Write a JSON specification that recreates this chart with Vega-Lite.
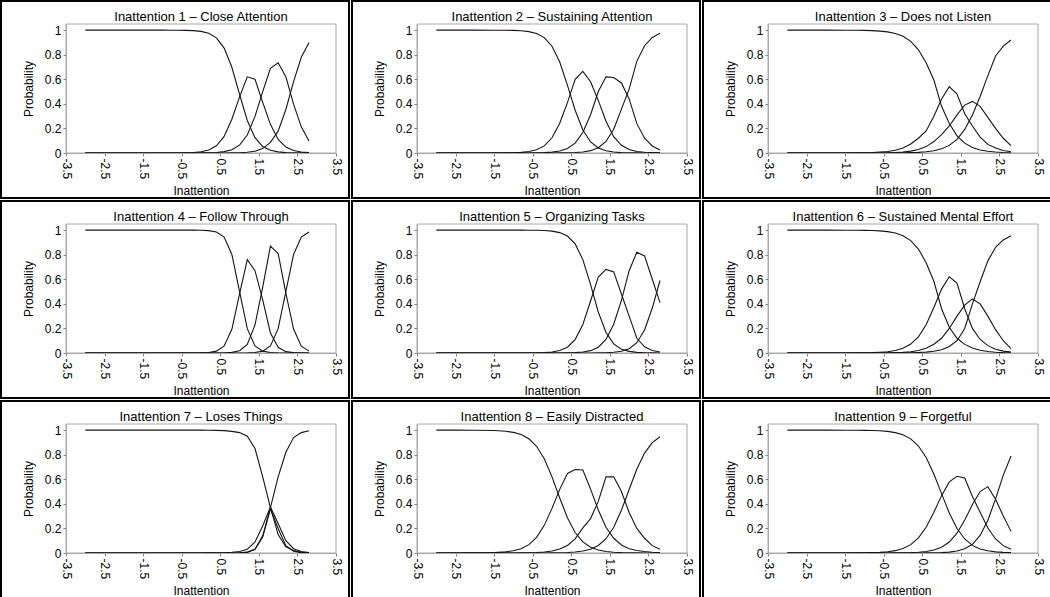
{
 "$schema": "https://vega.github.io/schema/vega-lite/v6.json",
 "padding": 0,
 "background": "white",
 "datasets": {
  "curves": [
   {"i":1,"x":-3,"a":1,"b":0,"c":0,"d":0},
   {"i":1,"x":-2.5,"a":1,"b":0,"c":0,"d":0},
   {"i":1,"x":-2,"a":1,"b":0,"c":0,"d":0},
   {"i":1,"x":-1.5,"a":1,"b":0,"c":0,"d":0},
   {"i":1,"x":-1.2,"a":1,"b":0,"c":0,"d":0},
   {"i":1,"x":-1,"a":1,"b":0,"c":0,"d":0},
   {"i":1,"x":-0.8,"a":0.9997,"b":0.0003,"c":0,"d":0},
   {"i":1,"x":-0.6,"a":0.9994,"b":0.0006,"c":0,"d":0},
   {"i":1,"x":-0.4,"a":0.998,"b":0.002,"c":0,"d":0},
   {"i":1,"x":-0.2,"a":0.996,"b":0.004,"c":0,"d":0},
   {"i":1,"x":0,"a":0.99,"b":0.0096,"c":0.0007,"d":0},
   {"i":1,"x":0.2,"a":0.974,"b":0.024,"c":0.002,"d":0},
   {"i":1,"x":0.4,"a":0.937,"b":0.059,"c":0.004,"d":0},
   {"i":1,"x":0.6,"a":0.854,"b":0.135,"c":0.011,"d":0},
   {"i":1,"x":0.8,"a":0.698,"b":0.275,"c":0.026,"d":0.001},
   {"i":1,"x":1,"a":0.477,"b":0.457,"c":0.064,"d":0.002},
   {"i":1,"x":1.2,"a":0.265,"b":0.62,"c":0.146,"d":0.006},
   {"i":1,"x":1.4,"a":0.125,"b":0.6,"c":0.298,"d":0.014},
   {"i":1,"x":1.6,"a":0.053,"b":0.412,"c":0.499,"d":0.036},
   {"i":1,"x":1.8,"a":0.022,"b":0.233,"c":0.69,"d":0.086},
   {"i":1,"x":2,"a":0.009,"b":0.11,"c":0.735,"d":0.178},
   {"i":1,"x":2.2,"a":0.003,"b":0.048,"c":0.62,"d":0.354},
   {"i":1,"x":2.4,"a":0.001,"b":0.02,"c":0.398,"d":0.581},
   {"i":1,"x":2.6,"a":0.001,"b":0.008,"c":0.213,"d":0.779},
   {"i":1,"x":2.8,"a":0,"b":0.003,"c":0.098,"d":0.899},

   {"i":2,"x":-3,"a":1,"b":0,"c":0,"d":0},
   {"i":2,"x":-2.5,"a":1,"b":0,"c":0,"d":0},
   {"i":2,"x":-2,"a":1,"b":0,"c":0,"d":0},
   {"i":2,"x":-1.5,"a":0.9997,"b":0.0003,"c":0,"d":0},
   {"i":2,"x":-1.2,"a":0.999,"b":0.001,"c":0,"d":0},
   {"i":2,"x":-1,"a":0.998,"b":0.002,"c":0,"d":0},
   {"i":2,"x":-0.8,"a":0.995,"b":0.005,"c":0,"d":0},
   {"i":2,"x":-0.6,"a":0.988,"b":0.012,"c":0,"d":0},
   {"i":2,"x":-0.4,"a":0.973,"b":0.026,"c":0.001,"d":0},
   {"i":2,"x":-0.2,"a":0.939,"b":0.058,"c":0.003,"d":0},
   {"i":2,"x":0,"a":0.869,"b":0.124,"c":0.007,"d":0},
   {"i":2,"x":0.2,"a":0.741,"b":0.242,"c":0.016,"d":0.001},
   {"i":2,"x":0.4,"a":0.552,"b":0.41,"c":0.037,"d":0.002},
   {"i":2,"x":0.6,"a":0.348,"b":0.6,"c":0.08,"d":0.004},
   {"i":2,"x":0.8,"a":0.187,"b":0.665,"c":0.167,"d":0.008},
   {"i":2,"x":1,"a":0.09,"b":0.58,"c":0.311,"d":0.019},
   {"i":2,"x":1.2,"a":0.041,"b":0.428,"c":0.5,"d":0.043},
   {"i":2,"x":1.4,"a":0.018,"b":0.258,"c":0.62,"d":0.094},
   {"i":2,"x":1.6,"a":0.008,"b":0.133,"c":0.615,"d":0.193},
   {"i":2,"x":1.8,"a":0.003,"b":0.063,"c":0.57,"d":0.357},
   {"i":2,"x":2,"a":0.002,"b":0.029,"c":0.44,"d":0.52},
   {"i":2,"x":2.2,"a":0.001,"b":0.012,"c":0.239,"d":0.748},
   {"i":2,"x":2.4,"a":0,"b":0.006,"c":0.121,"d":0.873},
   {"i":2,"x":2.6,"a":0,"b":0.003,"c":0.057,"d":0.941},
   {"i":2,"x":2.8,"a":0,"b":0.001,"c":0.025,"d":0.974},

   {"i":3,"x":-3,"a":1,"b":0,"c":0,"d":0},
   {"i":3,"x":-2.5,"a":1,"b":0,"c":0,"d":0},
   {"i":3,"x":-2,"a":1,"b":0,"c":0,"d":0},
   {"i":3,"x":-1.5,"a":0.9996,"b":0.0004,"c":0,"d":0},
   {"i":3,"x":-1.2,"a":0.999,"b":0.001,"c":0,"d":0},
   {"i":3,"x":-1,"a":0.998,"b":0.002,"c":0,"d":0},
   {"i":3,"x":-0.8,"a":0.996,"b":0.004,"c":0,"d":0},
   {"i":3,"x":-0.6,"a":0.992,"b":0.008,"c":0,"d":0},
   {"i":3,"x":-0.4,"a":0.986,"b":0.012,"c":0.002,"d":0},
   {"i":3,"x":-0.2,"a":0.973,"b":0.022,"c":0.004,"d":0.001},
   {"i":3,"x":0,"a":0.95,"b":0.04,"c":0.008,"d":0.001},
   {"i":3,"x":0.2,"a":0.909,"b":0.073,"c":0.015,"d":0.003},
   {"i":3,"x":0.4,"a":0.84,"b":0.12,"c":0.029,"d":0.005},
   {"i":3,"x":0.6,"a":0.735,"b":0.18,"c":0.052,"d":0.01},
   {"i":3,"x":0.8,"a":0.594,"b":0.3,"c":0.093,"d":0.018},
   {"i":3,"x":1,"a":0.38,"b":0.44,"c":0.15,"d":0.034},
   {"i":3,"x":1.2,"a":0.24,"b":0.54,"c":0.22,"d":0.062},
   {"i":3,"x":1.4,"a":0.14,"b":0.48,"c":0.31,"d":0.111},
   {"i":3,"x":1.6,"a":0.08,"b":0.32,"c":0.39,"d":0.192},
   {"i":3,"x":1.8,"a":0.045,"b":0.22,"c":0.42,"d":0.31},
   {"i":3,"x":2,"a":0.025,"b":0.13,"c":0.38,"d":0.46},
   {"i":3,"x":2.2,"a":0.014,"b":0.07,"c":0.29,"d":0.63},
   {"i":3,"x":2.4,"a":0.008,"b":0.04,"c":0.2,"d":0.79},
   {"i":3,"x":2.6,"a":0.004,"b":0.02,"c":0.12,"d":0.87},
   {"i":3,"x":2.8,"a":0.002,"b":0.01,"c":0.06,"d":0.92},

   {"i":4,"x":-3,"a":1,"b":0,"c":0,"d":0},
   {"i":4,"x":-2.5,"a":1,"b":0,"c":0,"d":0},
   {"i":4,"x":-2,"a":1,"b":0,"c":0,"d":0},
   {"i":4,"x":-1.5,"a":1,"b":0,"c":0,"d":0},
   {"i":4,"x":-1.2,"a":1,"b":0,"c":0,"d":0},
   {"i":4,"x":-1,"a":1,"b":0,"c":0,"d":0},
   {"i":4,"x":-0.8,"a":1,"b":0,"c":0,"d":0},
   {"i":4,"x":-0.6,"a":1,"b":0,"c":0,"d":0},
   {"i":4,"x":-0.4,"a":1,"b":0,"c":0,"d":0},
   {"i":4,"x":-0.2,"a":1,"b":0,"c":0,"d":0},
   {"i":4,"x":0,"a":0.999,"b":0.001,"c":0,"d":0},
   {"i":4,"x":0.2,"a":0.996,"b":0.004,"c":0,"d":0},
   {"i":4,"x":0.4,"a":0.985,"b":0.015,"c":0,"d":0},
   {"i":4,"x":0.6,"a":0.943,"b":0.057,"c":0,"d":0},
   {"i":4,"x":0.8,"a":0.802,"b":0.193,"c":0.005,"d":0},
   {"i":4,"x":1,"a":0.5,"b":0.482,"c":0.018,"d":0},
   {"i":4,"x":1.2,"a":0.198,"b":0.76,"c":0.069,"d":0.001},
   {"i":4,"x":1.4,"a":0.057,"b":0.67,"c":0.229,"d":0.004},
   {"i":4,"x":1.6,"a":0.015,"b":0.433,"c":0.537,"d":0.015},
   {"i":4,"x":1.8,"a":0.004,"b":0.163,"c":0.87,"d":0.057},
   {"i":4,"x":2,"a":0.001,"b":0.046,"c":0.81,"d":0.198},
   {"i":4,"x":2.2,"a":0,"b":0.011,"c":0.488,"d":0.5},
   {"i":4,"x":2.4,"a":0,"b":0.003,"c":0.195,"d":0.802},
   {"i":4,"x":2.6,"a":0,"b":0.001,"c":0.056,"d":0.943},
   {"i":4,"x":2.8,"a":0,"b":0,"c":0.015,"d":0.985},

   {"i":5,"x":-3,"a":1,"b":0,"c":0,"d":0},
   {"i":5,"x":-2.5,"a":1,"b":0,"c":0,"d":0},
   {"i":5,"x":-2,"a":1,"b":0,"c":0,"d":0},
   {"i":5,"x":-1.5,"a":1,"b":0,"c":0,"d":0},
   {"i":5,"x":-1.2,"a":1,"b":0,"c":0,"d":0},
   {"i":5,"x":-1,"a":1,"b":0,"c":0,"d":0},
   {"i":5,"x":-0.8,"a":1,"b":0,"c":0,"d":0},
   {"i":5,"x":-0.6,"a":0.9995,"b":0.0005,"c":0,"d":0},
   {"i":5,"x":-0.4,"a":0.999,"b":0.001,"c":0,"d":0},
   {"i":5,"x":-0.2,"a":0.997,"b":0.003,"c":0,"d":0},
   {"i":5,"x":0,"a":0.992,"b":0.008,"c":0,"d":0},
   {"i":5,"x":0.2,"a":0.98,"b":0.02,"c":0,"d":0},
   {"i":5,"x":0.4,"a":0.952,"b":0.047,"c":0.001,"d":0},
   {"i":5,"x":0.6,"a":0.888,"b":0.109,"c":0.003,"d":0},
   {"i":5,"x":0.8,"a":0.76,"b":0.232,"c":0.008,"d":0},
   {"i":5,"x":1,"a":0.557,"b":0.423,"c":0.019,"d":0},
   {"i":5,"x":1.2,"a":0.334,"b":0.618,"c":0.047,"d":0.001},
   {"i":5,"x":1.4,"a":0.167,"b":0.68,"c":0.11,"d":0.002},
   {"i":5,"x":1.6,"a":0.074,"b":0.66,"c":0.234,"d":0.006},
   {"i":5,"x":1.8,"a":0.031,"b":0.48,"c":0.429,"d":0.014},
   {"i":5,"x":2,"a":0.013,"b":0.3,"c":0.67,"d":0.035},
   {"i":5,"x":2.2,"a":0.005,"b":0.12,"c":0.82,"d":0.084},
   {"i":5,"x":2.4,"a":0.002,"b":0.05,"c":0.79,"d":0.187},
   {"i":5,"x":2.6,"a":0.001,"b":0.02,"c":0.6,"d":0.366},
   {"i":5,"x":2.8,"a":0,"b":0.008,"c":0.41,"d":0.59},

   {"i":6,"x":-3,"a":1,"b":0,"c":0,"d":0},
   {"i":6,"x":-2.5,"a":1,"b":0,"c":0,"d":0},
   {"i":6,"x":-2,"a":1,"b":0,"c":0,"d":0},
   {"i":6,"x":-1.5,"a":0.9997,"b":0.0003,"c":0,"d":0},
   {"i":6,"x":-1.2,"a":0.9992,"b":0.0008,"c":0,"d":0},
   {"i":6,"x":-1,"a":0.998,"b":0.002,"c":0,"d":0},
   {"i":6,"x":-0.8,"a":0.997,"b":0.003,"c":0,"d":0},
   {"i":6,"x":-0.6,"a":0.994,"b":0.006,"c":0,"d":0},
   {"i":6,"x":-0.4,"a":0.988,"b":0.01,"c":0.002,"d":0},
   {"i":6,"x":-0.2,"a":0.977,"b":0.02,"c":0.003,"d":0},
   {"i":6,"x":0,"a":0.955,"b":0.039,"c":0.005,"d":0.001},
   {"i":6,"x":0.2,"a":0.915,"b":0.073,"c":0.01,"d":0.002},
   {"i":6,"x":0.4,"a":0.846,"b":0.131,"c":0.02,"d":0.004},
   {"i":6,"x":0.6,"a":0.735,"b":0.23,"c":0.038,"d":0.007},
   {"i":6,"x":0.8,"a":0.584,"b":0.37,"c":0.071,"d":0.014},
   {"i":6,"x":1,"a":0.36,"b":0.52,"c":0.12,"d":0.027},
   {"i":6,"x":1.2,"a":0.21,"b":0.62,"c":0.2,"d":0.053},
   {"i":6,"x":1.4,"a":0.12,"b":0.57,"c":0.3,"d":0.1},
   {"i":6,"x":1.6,"a":0.07,"b":0.36,"c":0.39,"d":0.2},
   {"i":6,"x":1.8,"a":0.04,"b":0.2,"c":0.44,"d":0.4},
   {"i":6,"x":2,"a":0.023,"b":0.11,"c":0.4,"d":0.58},
   {"i":6,"x":2.2,"a":0.012,"b":0.06,"c":0.3,"d":0.75},
   {"i":6,"x":2.4,"a":0.006,"b":0.03,"c":0.19,"d":0.86},
   {"i":6,"x":2.6,"a":0.003,"b":0.015,"c":0.1,"d":0.92},
   {"i":6,"x":2.8,"a":0.002,"b":0.008,"c":0.035,"d":0.955},

   {"i":7,"x":-3,"a":1,"b":0,"c":0,"d":0},
   {"i":7,"x":-2.5,"a":1,"b":0,"c":0,"d":0},
   {"i":7,"x":-2,"a":1,"b":0,"c":0,"d":0},
   {"i":7,"x":-1.5,"a":1,"b":0,"c":0,"d":0},
   {"i":7,"x":-1.2,"a":1,"b":0,"c":0,"d":0},
   {"i":7,"x":-1,"a":1,"b":0,"c":0,"d":0},
   {"i":7,"x":-0.8,"a":1,"b":0,"c":0,"d":0},
   {"i":7,"x":-0.6,"a":1,"b":0,"c":0,"d":0},
   {"i":7,"x":-0.4,"a":1,"b":0,"c":0,"d":0},
   {"i":7,"x":-0.2,"a":1,"b":0,"c":0,"d":0},
   {"i":7,"x":0,"a":1,"b":0,"c":0,"d":0},
   {"i":7,"x":0.2,"a":0.999,"b":0.001,"c":0,"d":0},
   {"i":7,"x":0.4,"a":0.998,"b":0.001,"c":0,"d":0},
   {"i":7,"x":0.6,"a":0.996,"b":0.002,"c":0,"d":0},
   {"i":7,"x":0.8,"a":0.99,"b":0.006,"c":0,"d":0},
   {"i":7,"x":1,"a":0.98,"b":0.012,"c":0.002,"d":0.001},
   {"i":7,"x":1.2,"a":0.95,"b":0.03,"c":0.008,"d":0.005},
   {"i":7,"x":1.4,"a":0.85,"b":0.09,"c":0.03,"d":0.03},
   {"i":7,"x":1.6,"a":0.62,"b":0.22,"c":0.13,"d":0.14},
   {"i":7,"x":1.8,"a":0.37,"b":0.375,"c":0.36,"d":0.37},
   {"i":7,"x":2,"a":0.15,"b":0.24,"c":0.2,"d":0.62},
   {"i":7,"x":2.2,"a":0.05,"b":0.1,"c":0.06,"d":0.82},
   {"i":7,"x":2.4,"a":0.02,"b":0.035,"c":0.015,"d":0.94},
   {"i":7,"x":2.6,"a":0.005,"b":0.012,"c":0.003,"d":0.98},
   {"i":7,"x":2.8,"a":0.001,"b":0.004,"c":0,"d":0.995},

   {"i":8,"x":-3,"a":1,"b":0,"c":0,"d":0},
   {"i":8,"x":-2.5,"a":1,"b":0,"c":0,"d":0},
   {"i":8,"x":-2,"a":0.999,"b":0.001,"c":0,"d":0},
   {"i":8,"x":-1.5,"a":0.997,"b":0.003,"c":0,"d":0},
   {"i":8,"x":-1.2,"a":0.991,"b":0.009,"c":0,"d":0},
   {"i":8,"x":-1,"a":0.982,"b":0.018,"c":0,"d":0},
   {"i":8,"x":-0.8,"a":0.964,"b":0.035,"c":0.001,"d":0},
   {"i":8,"x":-0.6,"a":0.93,"b":0.068,"c":0.002,"d":0},
   {"i":8,"x":-0.4,"a":0.869,"b":0.127,"c":0.004,"d":0},
   {"i":8,"x":-0.2,"a":0.767,"b":0.225,"c":0.008,"d":0},
   {"i":8,"x":0,"a":0.62,"b":0.363,"c":0.016,"d":0.001},
   {"i":8,"x":0.2,"a":0.448,"b":0.518,"c":0.032,"d":0.002},
   {"i":8,"x":0.4,"a":0.287,"b":0.648,"c":0.061,"d":0.004},
   {"i":8,"x":0.6,"a":0.167,"b":0.68,"c":0.115,"d":0.008},
   {"i":8,"x":0.8,"a":0.09,"b":0.675,"c":0.205,"d":0.016},
   {"i":8,"x":1,"a":0.047,"b":0.52,"c":0.28,"d":0.031},
   {"i":8,"x":1.2,"a":0.024,"b":0.35,"c":0.42,"d":0.061},
   {"i":8,"x":1.4,"a":0.012,"b":0.21,"c":0.62,"d":0.116},
   {"i":8,"x":1.6,"a":0.006,"b":0.12,"c":0.62,"d":0.209},
   {"i":8,"x":1.8,"a":0.003,"b":0.065,"c":0.5,"d":0.348},
   {"i":8,"x":2,"a":0.002,"b":0.035,"c":0.33,"d":0.517},
   {"i":8,"x":2.2,"a":0.001,"b":0.02,"c":0.2,"d":0.683},
   {"i":8,"x":2.4,"a":0,"b":0.012,"c":0.12,"d":0.813},
   {"i":8,"x":2.6,"a":0,"b":0.006,"c":0.06,"d":0.898},
   {"i":8,"x":2.8,"a":0,"b":0.003,"c":0.03,"d":0.946},

   {"i":9,"x":-3,"a":1,"b":0,"c":0,"d":0},
   {"i":9,"x":-2.5,"a":1,"b":0,"c":0,"d":0},
   {"i":9,"x":-2,"a":1,"b":0,"c":0,"d":0},
   {"i":9,"x":-1.5,"a":0.9997,"b":0.0003,"c":0,"d":0},
   {"i":9,"x":-1.2,"a":0.999,"b":0.001,"c":0,"d":0},
   {"i":9,"x":-1,"a":0.998,"b":0.002,"c":0,"d":0},
   {"i":9,"x":-0.8,"a":0.997,"b":0.003,"c":0,"d":0},
   {"i":9,"x":-0.6,"a":0.995,"b":0.005,"c":0,"d":0},
   {"i":9,"x":-0.4,"a":0.99,"b":0.01,"c":0,"d":0},
   {"i":9,"x":-0.2,"a":0.98,"b":0.019,"c":0.001,"d":0},
   {"i":9,"x":0,"a":0.962,"b":0.036,"c":0.002,"d":0},
   {"i":9,"x":0.2,"a":0.929,"b":0.068,"c":0.003,"d":0},
   {"i":9,"x":0.4,"a":0.871,"b":0.123,"c":0.006,"d":0},
   {"i":9,"x":0.6,"a":0.777,"b":0.21,"c":0.012,"d":0.001},
   {"i":9,"x":0.8,"a":0.643,"b":0.331,"c":0.024,"d":0.002},
   {"i":9,"x":1,"a":0.483,"b":0.467,"c":0.047,"d":0.003},
   {"i":9,"x":1.2,"a":0.325,"b":0.579,"c":0.089,"d":0.007},
   {"i":9,"x":1.4,"a":0.199,"b":0.624,"c":0.161,"d":0.016},
   {"i":9,"x":1.6,"a":0.114,"b":0.61,"c":0.268,"d":0.034},
   {"i":9,"x":1.8,"a":0.062,"b":0.46,"c":0.394,"d":0.071},
   {"i":9,"x":2,"a":0.033,"b":0.331,"c":0.5,"d":0.143},
   {"i":9,"x":2.2,"a":0.018,"b":0.203,"c":0.54,"d":0.267},
   {"i":9,"x":2.4,"a":0.009,"b":0.114,"c":0.437,"d":0.44},
   {"i":9,"x":2.6,"a":0.005,"b":0.06,"c":0.301,"d":0.634},
   {"i":9,"x":2.8,"a":0.003,"b":0.031,"c":0.176,"d":0.79}
  ]
 },
 "data": {"name": "curves"},
 "columns": 3,
 "spacing": 0,
 "concat": [
  {"transform": [{"filter": "datum.i == 1"}], "width": 270, "height": 129, "layer": [
   {"transform": [{"filter": "datum.x == -3"}], "mark": {"type": "rect", "fill": "black", "strokeWidth": 0},
    "encoding": {"x": {"datum": -5.2111, "type": "quantitative"}, "x2": {"datum": 3.863}, "y": {"datum": -0.3745, "type": "quantitative"}, "y2": {"datum": 1.2453}}},
   {"transform": [{"filter": "datum.x == -3"}], "mark": {"type": "rect", "fill": "white", "strokeWidth": 0},
    "encoding": {"x": {"datum": -5.1593, "type": "quantitative"}, "x2": {"datum": 3.8111}, "y": {"datum": -0.3582, "type": "quantitative"}, "y2": {"datum": 1.229}}},
   {"transform": [{"filter": "datum.x == -3"}], "mark": {"type": "rect", "fill": "transparent", "stroke": "#a8a8a8", "strokeWidth": 1},
    "encoding": {"x": {"datum": -3.5, "type": "quantitative"}, "x2": {"datum": 3.5}, "y": {"datum": 0, "type": "quantitative"}, "y2": {"datum": 1.05}}},
   {"transform": [{"fold": ["a","b","c","d"], "as": ["cat","p"]}], "mark": {"type": "line", "stroke": "#151515", "strokeWidth": 1.1},
    "encoding": {"x": {"field": "x", "type": "quantitative", "scale": {"domain": [-3.5, 3.5], "nice": false, "zero": false}, "axis": {"title": "Inattention", "zindex": 1, "values": [-3.5,-2.5,-1.5,-0.5,0.5,1.5,2.5,3.5], "tickCount": 20, "labelAngle": 90, "labelOverlap": false, "labelExpr": "datum.value + ''"}},
                 "y": {"field": "p", "type": "quantitative", "scale": {"domain": [0, 1.05], "nice": false, "zero": false}, "axis": {"title": "Probability", "zindex": 1, "values": [0,0.2,0.4,0.6,0.8,1], "tickCount": 20, "labelOverlap": false, "labelExpr": "datum.value + ''"}},
                 "detail": {"field": "cat"}}},
   {"transform": [{"filter": "datum.x == -3"}], "mark": {"type": "text", "fontSize": 13, "baseline": "middle", "align": "center", "color": "black"},
    "encoding": {"x": {"datum": 0, "type": "quantitative"}, "y": {"datum": 1.105, "type": "quantitative"}, "text": {"value": "Inattention 1 – Close Attention"}}}
  ]},
  {"transform": [{"filter": "datum.i == 2"}], "width": 270, "height": 129, "layer": [
   {"transform": [{"filter": "datum.x == -3"}], "mark": {"type": "rect", "fill": "black", "strokeWidth": 0},
    "encoding": {"x": {"datum": -5.2111, "type": "quantitative"}, "x2": {"datum": 3.863}, "y": {"datum": -0.3745, "type": "quantitative"}, "y2": {"datum": 1.2453}}},
   {"transform": [{"filter": "datum.x == -3"}], "mark": {"type": "rect", "fill": "white", "strokeWidth": 0},
    "encoding": {"x": {"datum": -5.1593, "type": "quantitative"}, "x2": {"datum": 3.8111}, "y": {"datum": -0.3582, "type": "quantitative"}, "y2": {"datum": 1.229}}},
   {"transform": [{"filter": "datum.x == -3"}], "mark": {"type": "rect", "fill": "transparent", "stroke": "#a8a8a8", "strokeWidth": 1},
    "encoding": {"x": {"datum": -3.5, "type": "quantitative"}, "x2": {"datum": 3.5}, "y": {"datum": 0, "type": "quantitative"}, "y2": {"datum": 1.05}}},
   {"transform": [{"fold": ["a","b","c","d"], "as": ["cat","p"]}], "mark": {"type": "line", "stroke": "#151515", "strokeWidth": 1.1},
    "encoding": {"x": {"field": "x", "type": "quantitative", "scale": {"domain": [-3.5, 3.5], "nice": false, "zero": false}, "axis": {"title": "Inattention", "zindex": 1, "values": [-3.5,-2.5,-1.5,-0.5,0.5,1.5,2.5,3.5], "tickCount": 20, "labelAngle": 90, "labelOverlap": false, "labelExpr": "datum.value + ''"}},
                 "y": {"field": "p", "type": "quantitative", "scale": {"domain": [0, 1.05], "nice": false, "zero": false}, "axis": {"title": "Probability", "zindex": 1, "values": [0,0.2,0.4,0.6,0.8,1], "tickCount": 20, "labelOverlap": false, "labelExpr": "datum.value + ''"}},
                 "detail": {"field": "cat"}}},
   {"transform": [{"filter": "datum.x == -3"}], "mark": {"type": "text", "fontSize": 13, "baseline": "middle", "align": "center", "color": "black"},
    "encoding": {"x": {"datum": 0, "type": "quantitative"}, "y": {"datum": 1.105, "type": "quantitative"}, "text": {"value": "Inattention 2 – Sustaining Attention"}}}
  ]},
  {"transform": [{"filter": "datum.i == 3"}], "width": 270, "height": 129, "layer": [
   {"transform": [{"filter": "datum.x == -3"}], "mark": {"type": "rect", "fill": "black", "strokeWidth": 0},
    "encoding": {"x": {"datum": -5.2111, "type": "quantitative"}, "x2": {"datum": 3.863}, "y": {"datum": -0.3745, "type": "quantitative"}, "y2": {"datum": 1.2453}}},
   {"transform": [{"filter": "datum.x == -3"}], "mark": {"type": "rect", "fill": "white", "strokeWidth": 0},
    "encoding": {"x": {"datum": -5.1593, "type": "quantitative"}, "x2": {"datum": 3.8111}, "y": {"datum": -0.3582, "type": "quantitative"}, "y2": {"datum": 1.229}}},
   {"transform": [{"filter": "datum.x == -3"}], "mark": {"type": "rect", "fill": "transparent", "stroke": "#a8a8a8", "strokeWidth": 1},
    "encoding": {"x": {"datum": -3.5, "type": "quantitative"}, "x2": {"datum": 3.5}, "y": {"datum": 0, "type": "quantitative"}, "y2": {"datum": 1.05}}},
   {"transform": [{"fold": ["a","b","c","d"], "as": ["cat","p"]}], "mark": {"type": "line", "stroke": "#151515", "strokeWidth": 1.1},
    "encoding": {"x": {"field": "x", "type": "quantitative", "scale": {"domain": [-3.5, 3.5], "nice": false, "zero": false}, "axis": {"title": "Inattention", "zindex": 1, "values": [-3.5,-2.5,-1.5,-0.5,0.5,1.5,2.5,3.5], "tickCount": 20, "labelAngle": 90, "labelOverlap": false, "labelExpr": "datum.value + ''"}},
                 "y": {"field": "p", "type": "quantitative", "scale": {"domain": [0, 1.05], "nice": false, "zero": false}, "axis": {"title": "Probability", "zindex": 1, "values": [0,0.2,0.4,0.6,0.8,1], "tickCount": 20, "labelOverlap": false, "labelExpr": "datum.value + ''"}},
                 "detail": {"field": "cat"}}},
   {"transform": [{"filter": "datum.x == -3"}], "mark": {"type": "text", "fontSize": 13, "baseline": "middle", "align": "center", "color": "black"},
    "encoding": {"x": {"datum": 0, "type": "quantitative"}, "y": {"datum": 1.105, "type": "quantitative"}, "text": {"value": "Inattention 3 – Does not Listen"}}}
  ]},
  {"transform": [{"filter": "datum.i == 4"}], "width": 270, "height": 129, "layer": [
   {"transform": [{"filter": "datum.x == -3"}], "mark": {"type": "rect", "fill": "black", "strokeWidth": 0},
    "encoding": {"x": {"datum": -5.2111, "type": "quantitative"}, "x2": {"datum": 3.863}, "y": {"datum": -0.3745, "type": "quantitative"}, "y2": {"datum": 1.2453}}},
   {"transform": [{"filter": "datum.x == -3"}], "mark": {"type": "rect", "fill": "white", "strokeWidth": 0},
    "encoding": {"x": {"datum": -5.1593, "type": "quantitative"}, "x2": {"datum": 3.8111}, "y": {"datum": -0.3582, "type": "quantitative"}, "y2": {"datum": 1.229}}},
   {"transform": [{"filter": "datum.x == -3"}], "mark": {"type": "rect", "fill": "transparent", "stroke": "#a8a8a8", "strokeWidth": 1},
    "encoding": {"x": {"datum": -3.5, "type": "quantitative"}, "x2": {"datum": 3.5}, "y": {"datum": 0, "type": "quantitative"}, "y2": {"datum": 1.05}}},
   {"transform": [{"fold": ["a","b","c","d"], "as": ["cat","p"]}], "mark": {"type": "line", "stroke": "#151515", "strokeWidth": 1.1},
    "encoding": {"x": {"field": "x", "type": "quantitative", "scale": {"domain": [-3.5, 3.5], "nice": false, "zero": false}, "axis": {"title": "Inattention", "zindex": 1, "values": [-3.5,-2.5,-1.5,-0.5,0.5,1.5,2.5,3.5], "tickCount": 20, "labelAngle": 90, "labelOverlap": false, "labelExpr": "datum.value + ''"}},
                 "y": {"field": "p", "type": "quantitative", "scale": {"domain": [0, 1.05], "nice": false, "zero": false}, "axis": {"title": "Probability", "zindex": 1, "values": [0,0.2,0.4,0.6,0.8,1], "tickCount": 20, "labelOverlap": false, "labelExpr": "datum.value + ''"}},
                 "detail": {"field": "cat"}}},
   {"transform": [{"filter": "datum.x == -3"}], "mark": {"type": "text", "fontSize": 13, "baseline": "middle", "align": "center", "color": "black"},
    "encoding": {"x": {"datum": 0, "type": "quantitative"}, "y": {"datum": 1.105, "type": "quantitative"}, "text": {"value": "Inattention 4 – Follow Through"}}}
  ]},
  {"transform": [{"filter": "datum.i == 5"}], "width": 270, "height": 129, "layer": [
   {"transform": [{"filter": "datum.x == -3"}], "mark": {"type": "rect", "fill": "black", "strokeWidth": 0},
    "encoding": {"x": {"datum": -5.2111, "type": "quantitative"}, "x2": {"datum": 3.863}, "y": {"datum": -0.3745, "type": "quantitative"}, "y2": {"datum": 1.2453}}},
   {"transform": [{"filter": "datum.x == -3"}], "mark": {"type": "rect", "fill": "white", "strokeWidth": 0},
    "encoding": {"x": {"datum": -5.1593, "type": "quantitative"}, "x2": {"datum": 3.8111}, "y": {"datum": -0.3582, "type": "quantitative"}, "y2": {"datum": 1.229}}},
   {"transform": [{"filter": "datum.x == -3"}], "mark": {"type": "rect", "fill": "transparent", "stroke": "#a8a8a8", "strokeWidth": 1},
    "encoding": {"x": {"datum": -3.5, "type": "quantitative"}, "x2": {"datum": 3.5}, "y": {"datum": 0, "type": "quantitative"}, "y2": {"datum": 1.05}}},
   {"transform": [{"fold": ["a","b","c","d"], "as": ["cat","p"]}], "mark": {"type": "line", "stroke": "#151515", "strokeWidth": 1.1},
    "encoding": {"x": {"field": "x", "type": "quantitative", "scale": {"domain": [-3.5, 3.5], "nice": false, "zero": false}, "axis": {"title": "Inattention", "zindex": 1, "values": [-3.5,-2.5,-1.5,-0.5,0.5,1.5,2.5,3.5], "tickCount": 20, "labelAngle": 90, "labelOverlap": false, "labelExpr": "datum.value + ''"}},
                 "y": {"field": "p", "type": "quantitative", "scale": {"domain": [0, 1.05], "nice": false, "zero": false}, "axis": {"title": "Probability", "zindex": 1, "values": [0,0.2,0.4,0.6,0.8,1], "tickCount": 20, "labelOverlap": false, "labelExpr": "datum.value + ''"}},
                 "detail": {"field": "cat"}}},
   {"transform": [{"filter": "datum.x == -3"}], "mark": {"type": "text", "fontSize": 13, "baseline": "middle", "align": "center", "color": "black"},
    "encoding": {"x": {"datum": 0, "type": "quantitative"}, "y": {"datum": 1.105, "type": "quantitative"}, "text": {"value": "Inattention 5 – Organizing Tasks"}}}
  ]},
  {"transform": [{"filter": "datum.i == 6"}], "width": 270, "height": 129, "layer": [
   {"transform": [{"filter": "datum.x == -3"}], "mark": {"type": "rect", "fill": "black", "strokeWidth": 0},
    "encoding": {"x": {"datum": -5.2111, "type": "quantitative"}, "x2": {"datum": 3.863}, "y": {"datum": -0.3745, "type": "quantitative"}, "y2": {"datum": 1.2453}}},
   {"transform": [{"filter": "datum.x == -3"}], "mark": {"type": "rect", "fill": "white", "strokeWidth": 0},
    "encoding": {"x": {"datum": -5.1593, "type": "quantitative"}, "x2": {"datum": 3.8111}, "y": {"datum": -0.3582, "type": "quantitative"}, "y2": {"datum": 1.229}}},
   {"transform": [{"filter": "datum.x == -3"}], "mark": {"type": "rect", "fill": "transparent", "stroke": "#a8a8a8", "strokeWidth": 1},
    "encoding": {"x": {"datum": -3.5, "type": "quantitative"}, "x2": {"datum": 3.5}, "y": {"datum": 0, "type": "quantitative"}, "y2": {"datum": 1.05}}},
   {"transform": [{"fold": ["a","b","c","d"], "as": ["cat","p"]}], "mark": {"type": "line", "stroke": "#151515", "strokeWidth": 1.1},
    "encoding": {"x": {"field": "x", "type": "quantitative", "scale": {"domain": [-3.5, 3.5], "nice": false, "zero": false}, "axis": {"title": "Inattention", "zindex": 1, "values": [-3.5,-2.5,-1.5,-0.5,0.5,1.5,2.5,3.5], "tickCount": 20, "labelAngle": 90, "labelOverlap": false, "labelExpr": "datum.value + ''"}},
                 "y": {"field": "p", "type": "quantitative", "scale": {"domain": [0, 1.05], "nice": false, "zero": false}, "axis": {"title": "Probability", "zindex": 1, "values": [0,0.2,0.4,0.6,0.8,1], "tickCount": 20, "labelOverlap": false, "labelExpr": "datum.value + ''"}},
                 "detail": {"field": "cat"}}},
   {"transform": [{"filter": "datum.x == -3"}], "mark": {"type": "text", "fontSize": 13, "baseline": "middle", "align": "center", "color": "black"},
    "encoding": {"x": {"datum": 0, "type": "quantitative"}, "y": {"datum": 1.105, "type": "quantitative"}, "text": {"value": "Inattention 6 – Sustained Mental Effort"}}}
  ]},
  {"transform": [{"filter": "datum.i == 7"}], "width": 270, "height": 129, "layer": [
   {"transform": [{"filter": "datum.x == -3"}], "mark": {"type": "rect", "fill": "black", "strokeWidth": 0},
    "encoding": {"x": {"datum": -5.2111, "type": "quantitative"}, "x2": {"datum": 3.863}, "y": {"datum": -0.3745, "type": "quantitative"}, "y2": {"datum": 1.2453}}},
   {"transform": [{"filter": "datum.x == -3"}], "mark": {"type": "rect", "fill": "white", "strokeWidth": 0},
    "encoding": {"x": {"datum": -5.1593, "type": "quantitative"}, "x2": {"datum": 3.8111}, "y": {"datum": -0.3582, "type": "quantitative"}, "y2": {"datum": 1.229}}},
   {"transform": [{"filter": "datum.x == -3"}], "mark": {"type": "rect", "fill": "transparent", "stroke": "#a8a8a8", "strokeWidth": 1},
    "encoding": {"x": {"datum": -3.5, "type": "quantitative"}, "x2": {"datum": 3.5}, "y": {"datum": 0, "type": "quantitative"}, "y2": {"datum": 1.05}}},
   {"transform": [{"fold": ["a","b","c","d"], "as": ["cat","p"]}], "mark": {"type": "line", "stroke": "#151515", "strokeWidth": 1.1},
    "encoding": {"x": {"field": "x", "type": "quantitative", "scale": {"domain": [-3.5, 3.5], "nice": false, "zero": false}, "axis": {"title": "Inattention", "zindex": 1, "values": [-3.5,-2.5,-1.5,-0.5,0.5,1.5,2.5,3.5], "tickCount": 20, "labelAngle": 90, "labelOverlap": false, "labelExpr": "datum.value + ''"}},
                 "y": {"field": "p", "type": "quantitative", "scale": {"domain": [0, 1.05], "nice": false, "zero": false}, "axis": {"title": "Probability", "zindex": 1, "values": [0,0.2,0.4,0.6,0.8,1], "tickCount": 20, "labelOverlap": false, "labelExpr": "datum.value + ''"}},
                 "detail": {"field": "cat"}}},
   {"transform": [{"filter": "datum.x == -3"}], "mark": {"type": "text", "fontSize": 13, "baseline": "middle", "align": "center", "color": "black"},
    "encoding": {"x": {"datum": 0, "type": "quantitative"}, "y": {"datum": 1.105, "type": "quantitative"}, "text": {"value": "Inattention 7 – Loses Things"}}}
  ]},
  {"transform": [{"filter": "datum.i == 8"}], "width": 270, "height": 129, "layer": [
   {"transform": [{"filter": "datum.x == -3"}], "mark": {"type": "rect", "fill": "black", "strokeWidth": 0},
    "encoding": {"x": {"datum": -5.2111, "type": "quantitative"}, "x2": {"datum": 3.863}, "y": {"datum": -0.3745, "type": "quantitative"}, "y2": {"datum": 1.2453}}},
   {"transform": [{"filter": "datum.x == -3"}], "mark": {"type": "rect", "fill": "white", "strokeWidth": 0},
    "encoding": {"x": {"datum": -5.1593, "type": "quantitative"}, "x2": {"datum": 3.8111}, "y": {"datum": -0.3582, "type": "quantitative"}, "y2": {"datum": 1.229}}},
   {"transform": [{"filter": "datum.x == -3"}], "mark": {"type": "rect", "fill": "transparent", "stroke": "#a8a8a8", "strokeWidth": 1},
    "encoding": {"x": {"datum": -3.5, "type": "quantitative"}, "x2": {"datum": 3.5}, "y": {"datum": 0, "type": "quantitative"}, "y2": {"datum": 1.05}}},
   {"transform": [{"fold": ["a","b","c","d"], "as": ["cat","p"]}], "mark": {"type": "line", "stroke": "#151515", "strokeWidth": 1.1},
    "encoding": {"x": {"field": "x", "type": "quantitative", "scale": {"domain": [-3.5, 3.5], "nice": false, "zero": false}, "axis": {"title": "Inattention", "zindex": 1, "values": [-3.5,-2.5,-1.5,-0.5,0.5,1.5,2.5,3.5], "tickCount": 20, "labelAngle": 90, "labelOverlap": false, "labelExpr": "datum.value + ''"}},
                 "y": {"field": "p", "type": "quantitative", "scale": {"domain": [0, 1.05], "nice": false, "zero": false}, "axis": {"title": "Probability", "zindex": 1, "values": [0,0.2,0.4,0.6,0.8,1], "tickCount": 20, "labelOverlap": false, "labelExpr": "datum.value + ''"}},
                 "detail": {"field": "cat"}}},
   {"transform": [{"filter": "datum.x == -3"}], "mark": {"type": "text", "fontSize": 13, "baseline": "middle", "align": "center", "color": "black"},
    "encoding": {"x": {"datum": 0, "type": "quantitative"}, "y": {"datum": 1.105, "type": "quantitative"}, "text": {"value": "Inattention 8 – Easily Distracted"}}}
  ]},
  {"transform": [{"filter": "datum.i == 9"}], "width": 270, "height": 129, "layer": [
   {"transform": [{"filter": "datum.x == -3"}], "mark": {"type": "rect", "fill": "black", "strokeWidth": 0},
    "encoding": {"x": {"datum": -5.2111, "type": "quantitative"}, "x2": {"datum": 3.863}, "y": {"datum": -0.3745, "type": "quantitative"}, "y2": {"datum": 1.2453}}},
   {"transform": [{"filter": "datum.x == -3"}], "mark": {"type": "rect", "fill": "white", "strokeWidth": 0},
    "encoding": {"x": {"datum": -5.1593, "type": "quantitative"}, "x2": {"datum": 3.8111}, "y": {"datum": -0.3582, "type": "quantitative"}, "y2": {"datum": 1.229}}},
   {"transform": [{"filter": "datum.x == -3"}], "mark": {"type": "rect", "fill": "transparent", "stroke": "#a8a8a8", "strokeWidth": 1},
    "encoding": {"x": {"datum": -3.5, "type": "quantitative"}, "x2": {"datum": 3.5}, "y": {"datum": 0, "type": "quantitative"}, "y2": {"datum": 1.05}}},
   {"transform": [{"fold": ["a","b","c","d"], "as": ["cat","p"]}], "mark": {"type": "line", "stroke": "#151515", "strokeWidth": 1.1},
    "encoding": {"x": {"field": "x", "type": "quantitative", "scale": {"domain": [-3.5, 3.5], "nice": false, "zero": false}, "axis": {"title": "Inattention", "zindex": 1, "values": [-3.5,-2.5,-1.5,-0.5,0.5,1.5,2.5,3.5], "tickCount": 20, "labelAngle": 90, "labelOverlap": false, "labelExpr": "datum.value + ''"}},
                 "y": {"field": "p", "type": "quantitative", "scale": {"domain": [0, 1.05], "nice": false, "zero": false}, "axis": {"title": "Probability", "zindex": 1, "values": [0,0.2,0.4,0.6,0.8,1], "tickCount": 20, "labelOverlap": false, "labelExpr": "datum.value + ''"}},
                 "detail": {"field": "cat"}}},
   {"transform": [{"filter": "datum.x == -3"}], "mark": {"type": "text", "fontSize": 13, "baseline": "middle", "align": "center", "color": "black"},
    "encoding": {"x": {"datum": 0, "type": "quantitative"}, "y": {"datum": 1.105, "type": "quantitative"}, "text": {"value": "Inattention 9 – Forgetful"}}}
  ]}
 ],
 "config": {
  "font": "Liberation Sans",
  "view": {"stroke": null},
  "axis": {
   "grid": false,
   "labelOverlap": false,
   "labelFlush": false,
   "labelFont": "Liberation Sans",
   "titleFont": "Liberation Sans",
   "labelFontSize": 12,
   "titleFontSize": 12,
   "titleFontWeight": "normal",
   "labelColor": "black",
   "titleColor": "black",
   "domainColor": "#a8a8a8",
   "tickColor": "#808080",
   "tickSize": 3,
   "labelPadding": 2
  },
  "axisX": {"titlePadding": 7},
  "axisY": {"titlePadding": 9}
 }
}
